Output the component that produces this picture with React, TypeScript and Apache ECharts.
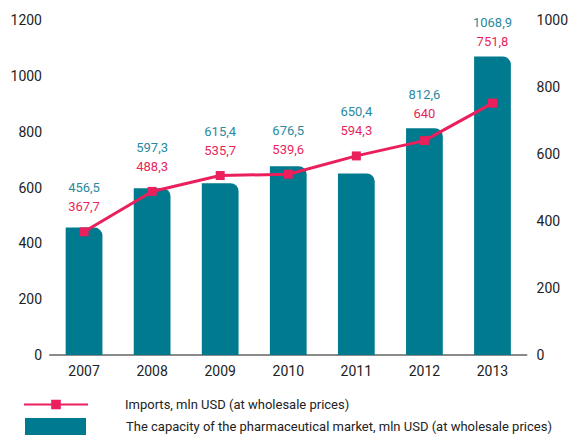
import React, { useEffect, useRef } from "react";
import * as echarts from "echarts";

const years = ["2007", "2008", "2009", "2010", "2011", "2012", "2013"];
const capacity = [456.5, 597.3, 615.4, 676.5, 650.4, 812.6, 1068.9];
const imports = [367.7, 488.3, 535.7, 539.6, 594.3, 640, 751.8];
const importsName = "Imports, mln USD (at wholesale prices)";
const capacityName = "The capacity of the pharmaceutical market, mln USD (at wholesale prices)";

const TEAL = "#007a8e";
const PINK = "#ea1f5b";
const FONT = "'Liberation Sans Narrow', Roboto, 'Liberation Sans', sans-serif";
const fmt = (v: number) => String(v).replace(".", ",");

export default function App() {
  const ref = useRef<HTMLDivElement>(null);
  useEffect(() => {
    const chart = echarts.init(ref.current!, null, { renderer: "svg" });
    chart.setOption({
      animation: false,
      textStyle: { fontFamily: FONT },
      grid: { left: 50, right: 39, top: 20, bottom: 81 },
      legend: [
        {
          data: [importsName],
          left: 23,
          top: 398,
          padding: 0,
          itemWidth: 64,
          itemHeight: 12,
          textStyle: { fontFamily: FONT, fontSize: 13, color: "#222", padding: [0, 0, 0, 32] },
        },
        {
          data: [{ name: capacityName, icon: "rect" }],
          left: 25,
          top: 418,
          padding: 0,
          itemWidth: 61,
          itemHeight: 17,
          textStyle: { fontFamily: FONT, fontSize: 13, color: "#222", padding: [0, 0, 0, 35] },
        },
      ],
      xAxis: {
        type: "category",
        data: years,
        axisLine: { lineStyle: { color: "#8a8a8a", width: 2 } },
        axisTick: { show: false },
        axisLabel: { color: "#222", fontSize: 14, margin: 9, fontFamily: FONT },
      },
      yAxis: [
        {
          type: "value",
          min: 0,
          max: 1200,
          interval: 200,
          splitLine: { show: false },
          axisLine: { show: false },
          axisLabel: { color: "#222", fontSize: 14, margin: 8, fontFamily: FONT, formatter: (v: number) => String(v) },
        },
        {
          type: "value",
          min: 0,
          max: 1000,
          interval: 200,
          splitLine: { show: false },
          axisLine: { show: false },
          axisLabel: { color: "#222", fontSize: 14, margin: 10, fontFamily: FONT, formatter: (v: number) => String(v) },
        },
      ],
      series: [
        {
          name: capacityName,
          type: "bar",
          data: capacity,
          barWidth: "54%",
          itemStyle: { color: TEAL, borderRadius: [0, 8, 0, 0] },
          label: {
            show: true,
            position: "top",
            distance: 0,
            formatter: (p: any) => `{a|${fmt(p.value)}}\n{b|${fmt(imports[p.dataIndex])}}`,
            rich: {
              a: { color: "#2a8a9e", fontSize: 13, lineHeight: 19, fontFamily: FONT },
              b: { color: PINK, fontSize: 13, lineHeight: 19, fontFamily: FONT },
            },
          },
          labelLayout: (params: any) => {
            const barTop = params.rect.y;
            let lineY = barTop;
            try {
              const v = chart.convertToPixel({ yAxisIndex: 1 } as any, imports[params.dataIndex]) as any;
              if (typeof v === "number" && isFinite(v)) lineY = v;
            } catch (e) {}
            const pinkCenter = Math.min(barTop - 15, lineY - 25);
            return { dy: pinkCenter + 9.5 - barTop };
          },
          z: 2,
        },
        {
          name: importsName,
          type: "line",
          yAxisIndex: 1,
          data: imports,
          symbol: "rect",
          symbolSize: 9,
          lineStyle: { color: PINK, width: 3 },
          itemStyle: { color: PINK },
          z: 3,
        },
      ],
    });
    return () => chart.dispose();
  }, []);
  return <div ref={ref} style={{ position: "absolute", left: 0, top: 0, width: 571, height: 436 }} />;
}
